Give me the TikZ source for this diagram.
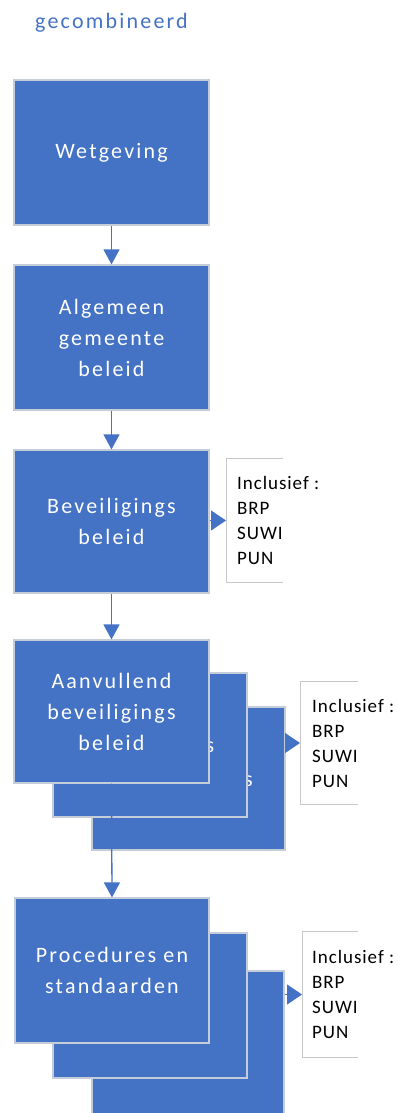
\documentclass[tikz,border=0pt]{standalone}
\usepackage{fontspec}
\setmainfont{Carlito}
\newfontfamily\boxfont[LetterSpace=10]{Carlito}
\newfontfamily\callfont[LetterSpace=5]{Carlito}
\usetikzlibrary{arrows.meta}
\definecolor{wblue}{HTML}{4472C4}
\definecolor{wedge}{HTML}{C5CCDA}
\definecolor{cedge}{HTML}{C8C8C8}
\begin{document}
\begin{tikzpicture}[x=1pt,y=-1pt,
  stepbox/.style={rectangle, fill=wblue, draw=wedge, line width=1.2pt,
    minimum width=195pt, minimum height=145pt, text=white, align=center,
    font=\boxfont\fontsize{22}{31}\selectfont, inner sep=0pt},
  callframe/.style={rectangle, fill=white, draw=none, minimum width=57pt,
    minimum height=124pt, inner sep=0pt},
  frameline/.style={draw=cedge, line width=0.9pt},
  calltext/.style={anchor=west, inner sep=0pt, align=left, text=black,
    font=\callfont\fontsize{19}{25}\selectfont},
  link/.style={draw=wblue, line width=1.3pt, -{Triangle[width=16pt,length=15pt]}},
  tiplink/.style={draw=wblue, line width=1pt, -{Triangle[width=20pt,length=15pt]}}]
\useasboundingbox (0,0) rectangle (397,1113);
\clip (0,0) rectangle (397,1113);

% title
\node[anchor=base west, inner sep=0pt, text=wblue,
  font=\boxfont\fontsize{22}{26}\selectfont] (title) at (35,29) {gecombineerd};

% single boxes
\node[stepbox] (B1) at (111.5,152.5) {Wetgeving};
\node[stepbox] (B2) at (111.5,337.5) {Algemeen\\gemeente\\beleid};
\node[stepbox, minimum height=143pt] (B3) at (111.5,521.5) {Beveiligings\\beleid};

% stacked group 4
\node[stepbox, minimum width=193pt, minimum height=143pt] (B4c) at (188.5,778.5) {Aanvullend\\beveiligings\\beleid};
\node[stepbox, minimum width=194pt, minimum height=144pt] (B4b) at (150,745) {Aanvullend\\beveiligings\\beleid};
\node[stepbox, minimum height=143pt] (B4a) at (111.5,711.5) {Aanvullend\\beveiligings\\beleid};

% stacked group 5
\node[stepbox, minimum width=192pt] (B5c) at (188,1043.5) {};
\node[stepbox, minimum width=194pt] (B5b) at (150,1005.5) {};
\node[stepbox, minimum width=194pt] (B5a) at (112,970.5) {Procedures en\\standaarden};

% callouts (frames open on the right, text running past them)
\node[callframe, anchor=west] (F1) at (226,520.5) {};
\draw[frameline] (F1.north east) -- (F1.north west) -- (F1.south west) -- (F1.south east);
\node[calltext] (C1) at ([xshift=11pt]F1.west) {Inclusief :\\BRP\\SUWI\\PUN};

\node[callframe, minimum width=58pt, minimum height=122pt, anchor=west] (F2) at (300,743) {};
\draw[frameline] (F2.north east) -- (F2.north west) -- (F2.south west) -- (F2.south east);
\node[calltext] (C2) at ([xshift=12pt]F2.west) {Inclusief :\\BRP\\SUWI\\PUN};

\node[callframe, minimum width=56pt, minimum height=125pt, anchor=west] (F3) at (302,994.5) {};
\draw[frameline] (F3.north east) -- (F3.north west) -- (F3.south west) -- (F3.south east);
\node[calltext] (C3) at ([xshift=10pt]F3.west) {Inclusief :\\BRP\\SUWI\\PUN};

% connectors
\draw[link] (B1.south) -- (B2.north);
\draw[link] (B2.south) -- (B3.north);
\draw[link] (B3.south) -- (B4a.north);
\draw[link] (B4a.south) -- (B5a.north);

\draw[tiplink] (B3.east |- F1.west) -- (F1.west);
\draw[tiplink] (B4c.east |- F2.west) -- (F2.west);
\draw[tiplink] (B5c.east |- F3.west) -- (F3.west);
\end{tikzpicture}
\end{document}
